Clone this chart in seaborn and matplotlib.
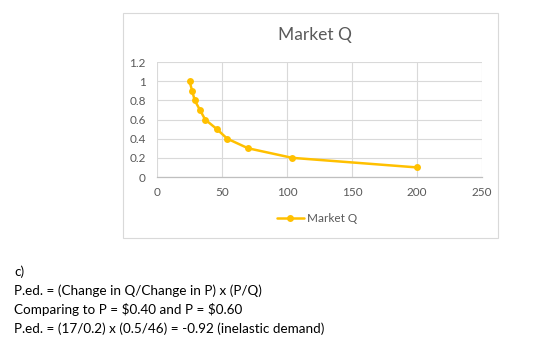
import numpy as np
import pandas as pd
import matplotlib
matplotlib.use('Agg')
import matplotlib.pyplot as plt
import seaborn as sns
from matplotlib.patches import Rectangle

# data
quantity = [25, 27, 29, 33, 37, 46, 54, 70, 104, 200]
price = [1.0, 0.9, 0.8, 0.7, 0.6, 0.5, 0.4, 0.3, 0.2, 0.1]
x_ticks = [0, 50, 100, 150, 200, 250]
y_ticks = [0, 0.2, 0.4, 0.6, 0.8, 1.0, 1.2]
y_labels = ['0', '0.2', '0.4', '0.6', '0.8', '1', '1.2']
notes = [
    'c)',
    'P.ed. = (Change in Q/Change in P) x (P/Q)',
    'Comparing to P = $0.40 and P = $0.60',
    'P.ed. = (17/0.2) x (0.5/46) = -0.92 (inelastic demand)',
]

df = pd.DataFrame({'Q': quantity, 'P': price})

sns.set_style('white')
plt.rcParams['font.family'] = ['Lato', 'DejaVu Sans']

fig = plt.figure(figsize=(5.6, 3.49), dpi=100)
ax = fig.add_axes([0.2804, 0.4928, 0.5804, 0.3295])

gold = '#FFC000'
sns.lineplot(data=df, x='Q', y='P', ax=ax, color=gold, lw=1.8,
             marker='o', markersize=5, markeredgewidth=0, sort=False,
             label='Market Q', legend=False)

ax.set_xlim(0, 250)
ax.set_ylim(0, 1.2)
ax.set_xticks(x_ticks)
ax.set_yticks(y_ticks)
ax.set_yticklabels(y_labels)
ax.grid(True, color='#D9D9D9', lw=0.8)
ax.set_axisbelow(True)
for s in ['top', 'right', 'left']:
    ax.spines[s].set_visible(False)
ax.spines['bottom'].set_color('#BFBFBF')
ax.spines['bottom'].set_linewidth(0.9)
ax.tick_params(axis='both', length=0, labelsize=8.5, labelcolor='#595959')
ax.tick_params(axis='y', pad=8)
ax.tick_params(axis='x', pad=7)
ax.set_xlabel('')
ax.set_ylabel('')

# chart title and legend
fig.text(315 / 560, 1 - 35 / 349, 'Market Q', ha='center', va='center',
         fontsize=12.5, color='#595959')
leg = ax.legend(handles=ax.get_lines()[:1], labels=['Market Q'], loc='center',
                bbox_to_anchor=(317 / 560, 1 - 219 / 349),
                bbox_transform=fig.transFigure, frameon=False, fontsize=8.5,
                handlelength=2.3, handletextpad=0.3, labelcolor='#595959')

# chart border
fig.patches.append(Rectangle((123 / 560, 1 - 238 / 349), 375 / 560, 225 / 349,
                             transform=fig.transFigure, fill=False,
                             edgecolor='#D9D9D9', lw=0.8))

# notes below the chart
for i, line in enumerate(notes):
    fig.text(14 / 560, 1 - (272 + 19 * i) / 349, line.replace('$', r'\$'),
             ha='left', va='center', fontsize=9.7, color='#000000')

fig.savefig('out.png', dpi=100)
